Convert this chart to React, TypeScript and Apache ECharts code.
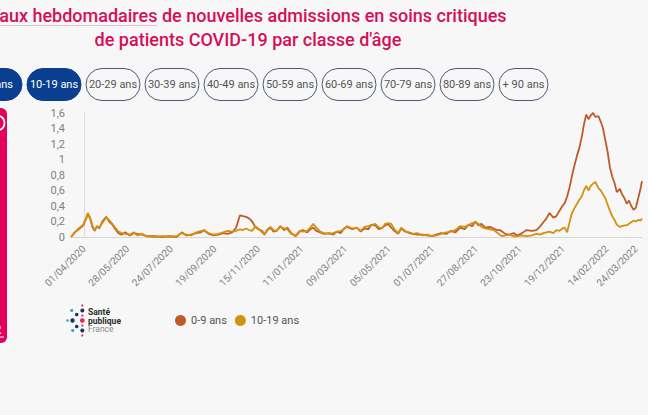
import React, { useEffect, useRef } from 'react';
import * as echarts from 'echarts';

// Day offsets from 01/04/2020
const DAYS = [
  -17, -12, -7, -1, 3, 5, 8, 11, 14, 17, 20, 24, 29, 33, 37, 41, 45, 49, 54, 60,
  65, 70, 76, 82, 92, 102, 112, 121, 128, 134, 140, 147, 153, 157, 163, 169, 176, 182, 188, 194,
  199, 204, 208, 212, 216, 220, 224, 228, 233, 236, 240, 244, 248, 252, 257, 262, 266, 271, 277, 282,
  286, 292, 296, 300, 304, 309, 314, 321, 326, 331, 336, 340, 344, 351, 357, 362, 367, 372, 376, 381,
  386, 390, 394, 398, 402, 406, 411, 415, 420, 425, 430, 436, 443, 449, 455, 461, 467, 474, 480, 486,
  492, 498, 503, 508, 512, 516, 520, 525, 531, 536, 540, 544, 547, 551, 557, 562, 567, 573, 579, 586,
  592, 597, 601, 605, 609, 614, 618, 622, 626, 629, 632, 635, 638, 641, 645, 648, 651, 654, 657, 660,
  663, 666, 669, 673, 676, 679, 682, 685, 688, 691, 694, 697, 701, 704, 707, 710, 713, 716, 719, 722,
  725, 728, 730,
];

const RATE_0_9 = [
  0.00, 0.06, 0.10, 0.15, 0.24, 0.30, 0.24, 0.13, 0.08, 0.14, 0.11, 0.20, 0.26, 0.20, 0.16, 0.10, 0.05, 0.03, 0.06, 0.02,
  0.05, 0.04, 0.03, 0.01, 0.01, 0.00, 0.01, 0.00, 0.06, 0.02, 0.03, 0.05, 0.06, 0.09, 0.04, 0.02, 0.03, 0.05, 0.04, 0.06,
  0.12, 0.28, 0.27, 0.26, 0.24, 0.20, 0.13, 0.10, 0.08, 0.03, 0.09, 0.12, 0.07, 0.08, 0.14, 0.09, 0.12, 0.05, 0.01, 0.07,
  0.09, 0.06, 0.10, 0.12, 0.08, 0.06, 0.04, 0.05, 0.03, 0.07, 0.05, 0.11, 0.13, 0.10, 0.12, 0.07, 0.11, 0.10, 0.16, 0.15,
  0.10, 0.12, 0.15, 0.17, 0.12, 0.08, 0.04, 0.11, 0.07, 0.06, 0.04, 0.03, 0.03, 0.02, 0.01, 0.03, 0.05, 0.04, 0.08, 0.06,
  0.12, 0.10, 0.16, 0.14, 0.20, 0.15, 0.17, 0.12, 0.13, 0.11, 0.09, 0.09, 0.07, 0.04, 0.03, 0.05, 0.02, 0.05, 0.09, 0.08,
  0.09, 0.14, 0.19, 0.24, 0.31, 0.25, 0.27, 0.34, 0.40, 0.44, 0.52, 0.63, 0.77, 0.90, 1.05, 1.15, 1.28, 1.45, 1.58, 1.52,
  1.57, 1.60, 1.55, 1.56, 1.49, 1.40, 1.25, 1.10, 0.90, 0.78, 0.70, 0.58, 0.62, 0.55, 0.50, 0.43, 0.47, 0.40, 0.35, 0.38,
  0.50, 0.62, 0.72,
];

const RATE_10_19 = [
  0.00, 0.06, 0.11, 0.16, 0.25, 0.31, 0.25, 0.15, 0.09, 0.13, 0.12, 0.18, 0.25, 0.22, 0.17, 0.12, 0.07, 0.05, 0.04, 0.03,
  0.06, 0.02, 0.04, 0.01, 0.00, 0.01, 0.00, 0.01, 0.05, 0.03, 0.02, 0.06, 0.08, 0.08, 0.05, 0.03, 0.04, 0.06, 0.08, 0.07,
  0.08, 0.10, 0.09, 0.11, 0.09, 0.08, 0.14, 0.11, 0.06, 0.04, 0.10, 0.13, 0.09, 0.08, 0.13, 0.11, 0.10, 0.04, 0.02, 0.08,
  0.07, 0.08, 0.12, 0.17, 0.12, 0.07, 0.05, 0.04, 0.05, 0.07, 0.08, 0.10, 0.14, 0.11, 0.12, 0.08, 0.13, 0.14, 0.15, 0.17,
  0.12, 0.11, 0.17, 0.18, 0.17, 0.10, 0.05, 0.12, 0.08, 0.05, 0.04, 0.05, 0.02, 0.03, 0.01, 0.02, 0.04, 0.06, 0.07, 0.09,
  0.14, 0.13, 0.15, 0.18, 0.19, 0.17, 0.13, 0.11, 0.10, 0.09, 0.06, 0.03, 0.01, 0.02, 0.03, 0.01, 0.01, 0.02, 0.01, 0.02,
  0.04, 0.03, 0.05, 0.06, 0.07, 0.05, 0.09, 0.08, 0.11, 0.12, 0.06, 0.18, 0.30, 0.36, 0.43, 0.48, 0.52, 0.60, 0.66, 0.60,
  0.66, 0.69, 0.71, 0.63, 0.60, 0.55, 0.50, 0.42, 0.34, 0.27, 0.22, 0.16, 0.13, 0.14, 0.15, 0.15, 0.17, 0.19, 0.21, 0.20,
  0.22, 0.21, 0.24,
];

const TICK_DAYS = [0, 57, 114, 171, 228, 285, 342, 399, 456, 513, 570, 627, 684, 722];
const TICK_LABELS = [
  '01/04/2020', '28/05/2020', '24/07/2020', '19/09/2020', '15/11/2020', '11/01/2021', '09/03/2021',
  '05/05/2021', '01/07/2021', '27/08/2021', '23/10/2021', '19/12/2021', '14/02/2022', '24/03/2022',
];

const SERIES_NAMES = ['0-9 ans', '10-19 ans'];
const SERIES_COLORS = ['#bf5a29', '#d4900f'];

const AGE_BUTTONS = ['0-9 ans', '10-19 ans', '20-29 ans', '30-39 ans', '40-49 ans', '50-59 ans', '60-69 ans', '70-79 ans', '80-89 ans', '+ 90 ans'];
const SELECTED_BUTTONS = ['0-9 ans', '10-19 ans'];

const TITLE_LINES = [
  'Taux hebdomadaires de nouvelles admissions en soins critiques',
  "de patients COVID-19 par classe d'âge",
];

export default function App() {
  const ref = useRef<HTMLDivElement>(null);

  useEffect(() => {
    if (!ref.current) return;
    document.body.style.margin = '0';
    document.body.style.background = '#f7f7f7';
    const chart = echarts.init(ref.current, null, { renderer: 'svg' });

    const buttons: any[] = AGE_BUTTONS.map((label, i) => {
      const x = i === 0 ? -32 : 27 + 59 * (i - 1);
      const w = i === AGE_BUTTONS.length - 1 ? 49 : 54;
      const sel = SELECTED_BUTTONS.includes(label);
      return {
        type: 'group',
        children: [
          {
            type: 'rect',
            shape: { x, y: 68.5, width: w, height: 32, r: 16 },
            style: sel
              ? { fill: '#0a3f8f', stroke: '#0a3f8f', lineWidth: 1 }
              : { fill: '#f7f7f7', stroke: '#4b5a75', lineWidth: 1 },
          },
          {
            type: 'text',
            x: x + w / 2,
            y: 84.5,
            style: {
              text: label,
              fill: sel ? '#ffffff' : '#555555',
              fontSize: 11,
              fontFamily: 'Roboto',
              align: 'center',
              verticalAlign: 'middle',
            },
          },
        ],
      };
    });

    const logoDots: [number, number, number, string][] = [
      [82.3, 305.5, 1.1, '#e2245e'],
      [82.3, 310.5, 2.0, '#17365f'],
      [82.3, 315.5, 1.1, '#e2245e'],
      [82.3, 320.5, 2.3, '#e2245e'],
      [82.3, 325.5, 1.1, '#e2245e'],
      [82.3, 330.5, 2.0, '#17365f'],
      [82.3, 335.5, 1.1, '#e2245e'],
      [76.7, 314.5, 1.8, '#17365f'],
      [76.7, 326.5, 1.8, '#17365f'],
      [72.5, 320.5, 2.2, '#17365f'],
      [71.7, 310.5, 1.6, '#2bb3b1'],
      [72.7, 330.5, 1.6, '#2bb3b1'],
      [67.5, 320.5, 1.3, '#2bb3b1'],
    ];

    const titleStyle = {
      fill: '#d40f5a',
      fontSize: 18,
      fontWeight: 500,
      fontFamily: 'Roboto',
      align: 'center',
      verticalAlign: 'middle',
    };

    const graphic: any[] = [
      { type: 'text', x: 248, y: 15, style: { ...titleStyle, text: TITLE_LINES[0] } },
      {
        type: 'line',
        shape: { x1: 0, y1: 25.5, x2: 157, y2: 25.5 },
        style: { stroke: '#dcc0cb', lineWidth: 1 },
      },
      { type: 'text', x: 248, y: 39, style: { ...titleStyle, text: TITLE_LINES[1] } },
      ...buttons,
      {
        type: 'rect',
        shape: { x: -12, y: 108, width: 19, height: 235, r: 6 },
        style: { fill: '#e2005a' },
      },
      {
        type: 'circle',
        shape: { cx: -3, cy: 123, r: 7.5 },
        style: { fill: 'none', stroke: '#ffffff', lineWidth: 1.8 },
      },
      {
        type: 'text',
        x: -2,
        y: 330,
        style: {
          text: '2',
          fill: '#ffffff',
          fontSize: 12,
          fontWeight: 'bold',
          fontFamily: 'Roboto',
          align: 'center',
          verticalAlign: 'middle',
        },
      },
      {
        type: 'line',
        shape: { x1: -6, y1: 337, x2: 4, y2: 337 },
        style: { stroke: '#ffffff', lineWidth: 1 },
      },
      ...logoDots.map(([cx, cy, r, c]) => ({
        type: 'circle',
        shape: { cx, cy, r },
        style: { fill: c },
      })),
      {
        type: 'text',
        x: 88,
        y: 312,
        style: { text: 'Santé', fill: '#2b2b2b', fontSize: 8.5, fontWeight: 'bold', fontFamily: 'Roboto', verticalAlign: 'middle', lineHeight: 8 },
      },
      {
        type: 'text',
        x: 88,
        y: 320.5,
        style: { text: 'publique', fill: '#2b2b2b', fontSize: 8.5, fontWeight: 'bold', fontFamily: 'Roboto', verticalAlign: 'middle', lineHeight: 8 },
      },
      {
        type: 'text',
        x: 88,
        y: 329,
        style: { text: 'France', fill: '#8a8a8a', fontSize: 8.5, fontFamily: 'Roboto', verticalAlign: 'middle', lineHeight: 8 },
      },
    ];

    chart.setOption({
      animation: false,
      backgroundColor: '#f7f7f7',
      textStyle: { fontFamily: 'Roboto' },
      grid: { left: 71, right: 6, top: 113, bottom: 178, containLabel: false, outerBoundsMode: 'none' },
      legend: {
        left: 170,
        top: 310,
        icon: 'circle',
        itemWidth: 11,
        itemHeight: 11,
        itemGap: 8,
        data: SERIES_NAMES,
        textStyle: { color: '#555555', fontSize: 11, fontFamily: 'Roboto' },
      },
      xAxis: {
        type: 'value',
        min: -17,
        max: 730,
        axisLine: { show: true, lineStyle: { color: '#d6d6d6', width: 1 } },
        axisTick: { show: false },
        splitLine: { show: false },
        axisLabel: {
          customValues: TICK_DAYS,
          rotate: 45,
          margin: 10,
          color: '#808080',
          fontSize: 10,
          fontFamily: 'Roboto',
          hideOverlap: false,
          formatter: (v: number) => {
            const i = TICK_DAYS.indexOf(Math.round(v));
            return i >= 0 ? TICK_LABELS[i] : '';
          },
        },
      },
      yAxis: {
        type: 'value',
        min: 0,
        max: 1.6,
        interval: 0.2,
        axisLine: { show: true, lineStyle: { color: '#dedede', width: 1 } },
        axisTick: { show: false },
        splitLine: { show: false },
        axisLabel: {
          color: '#808080',
          fontSize: 11,
          margin: 6,
          fontFamily: 'Roboto',
          formatter: (v: number) => (v === 0 ? '0' : v.toFixed(1).replace('.', ',').replace(',0', '')),
        },
      },
      series: [RATE_0_9, RATE_10_19].map((vals, s) => ({
        name: SERIES_NAMES[s],
        type: 'line',
        symbol: 'none',
        showSymbol: false,
        itemStyle: { color: SERIES_COLORS[s] },
        lineStyle: { color: SERIES_COLORS[s], width: 1.8 },
        data: DAYS.map((d, i) => [d, vals[i]]),
      })),
      graphic,
    });

    return () => chart.dispose();
  }, []);

  return (
    <div
      ref={ref}
      style={{ position: 'fixed', left: 0, top: 0, width: 648, height: 415 }}
    />
  );
}
